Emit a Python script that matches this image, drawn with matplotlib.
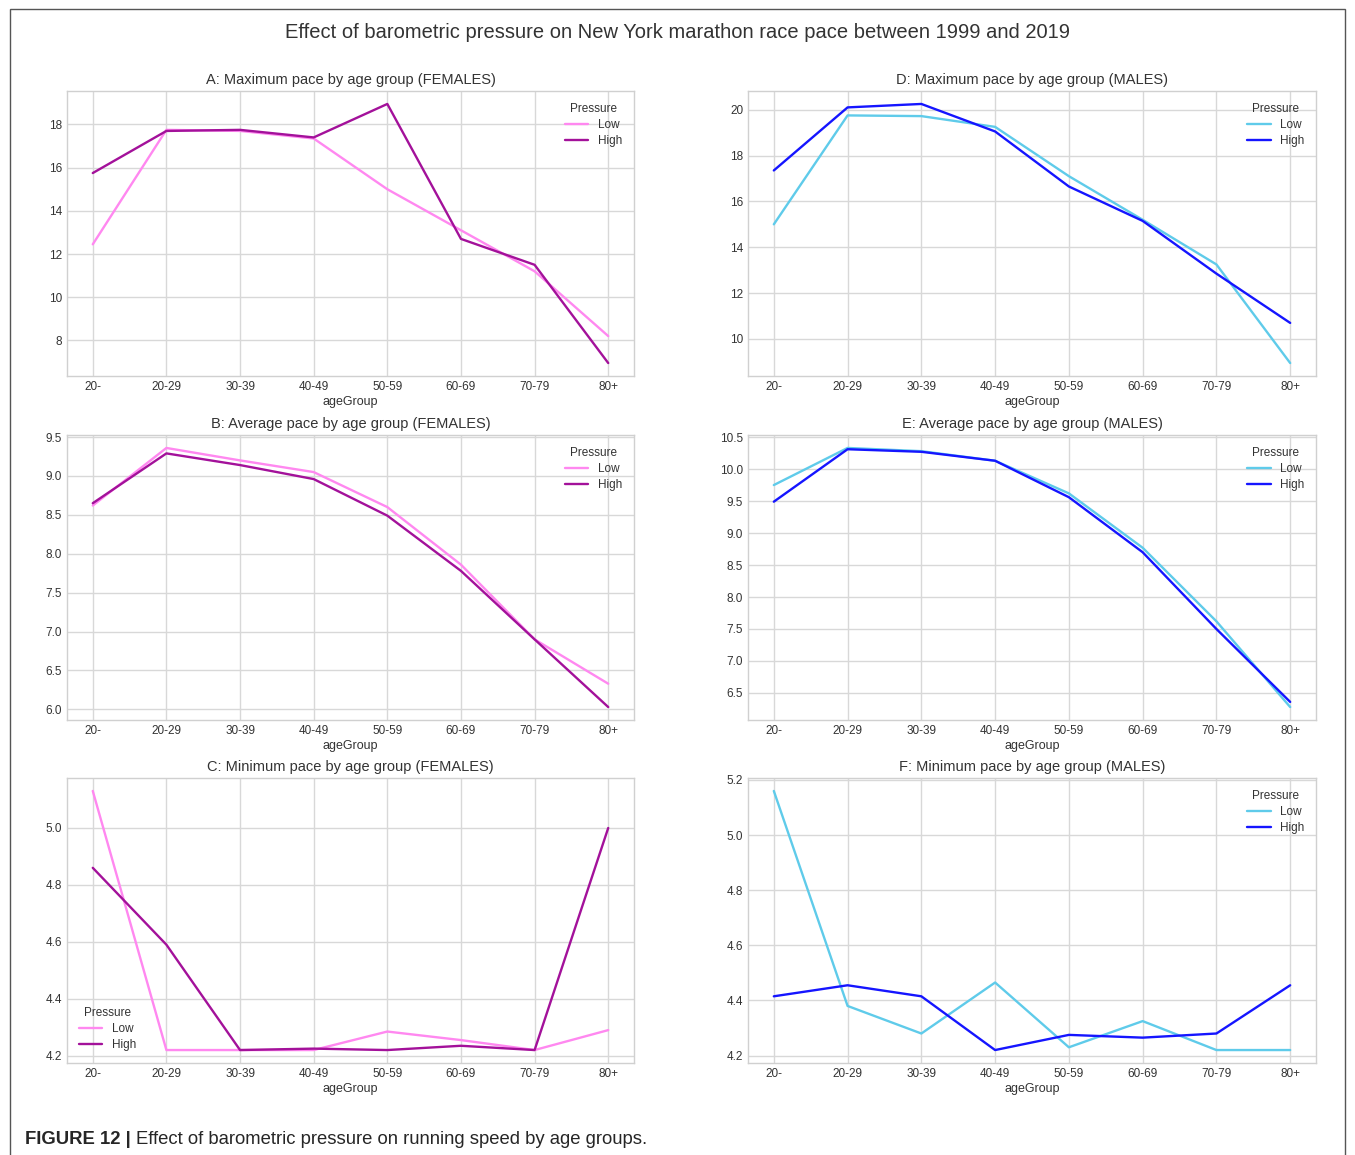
import matplotlib
matplotlib.use("Agg")
import matplotlib.pyplot as plt
from matplotlib.patches import Rectangle

age_groups = ["20-", "20-29", "30-39", "40-49", "50-59", "60-69", "70-79", "80+"]

# females
f_max_low = [12.45, 17.75, 17.7, 17.35, 15.0, 13.1, 11.2, 8.2]
f_max_high = [15.75, 17.7, 17.75, 17.4, 18.95, 12.7, 11.5, 6.95]
f_avg_low = [8.62, 9.36, 9.2, 9.05, 8.6, 7.86, 6.9, 6.33]
f_avg_high = [8.65, 9.29, 9.14, 8.96, 8.49, 7.78, 6.9, 6.03]
f_min_low = [5.13, 4.22, 4.22, 4.22, 4.285, 4.255, 4.22, 4.29]
f_min_high = [4.86, 4.59, 4.22, 4.225, 4.22, 4.235, 4.22, 5.0]

# males
m_max_low = [15.0, 19.75, 19.72, 19.25, 17.1, 15.2, 13.25, 8.95]
m_max_high = [17.35, 20.1, 20.25, 19.05, 16.65, 15.15, 12.85, 10.7]
m_avg_low = [9.75, 10.33, 10.28, 10.13, 9.62, 8.77, 7.62, 6.28]
m_avg_high = [9.49, 10.31, 10.27, 10.13, 9.56, 8.7, 7.5, 6.36]
m_min_low = [5.16, 4.38, 4.28, 4.465, 4.23, 4.325, 4.22, 4.22]
m_min_high = [4.415, 4.455, 4.415, 4.22, 4.275, 4.265, 4.28, 4.455]

f_colors = ["#ff88f0", "#a3119a"]
m_colors = ["#5fcbea", "#1515ff"]

plt.style.use("seaborn-v0_8-whitegrid")
plt.rcParams["font.family"] = ["Liberation Sans", "DejaVu Sans"]

fig = plt.figure(figsize=(13.55, 11.55), dpi=100)

W, H = 1355, 1155
def add_ax(l, t, r, b):
    return fig.add_axes([l / W, 1 - b / H, (r - l) / W, (b - t) / H])

panels = [
    ((67, 91, 634, 376), "A: Maximum pace by age group (FEMALES)", f_max_low, f_max_high, f_colors, "upper right"),
    ((67, 435, 634, 720), "B: Average pace by age group (FEMALES)", f_avg_low, f_avg_high, f_colors, "upper right"),
    ((67, 778, 634, 1063), "C: Minimum pace by age group (FEMALES)", f_min_low, f_min_high, f_colors, "lower left"),
    ((748, 91, 1316, 376), "D: Maximum pace by age group (MALES)", m_max_low, m_max_high, m_colors, "upper right"),
    ((748, 435, 1316, 720), "E: Average pace by age group (MALES)", m_avg_low, m_avg_high, m_colors, "upper right"),
    ((748, 778, 1316, 1063), "F: Minimum pace by age group (MALES)", m_min_low, m_min_high, m_colors, "upper right"),
]

x = list(range(len(age_groups)))
for box, title, low, high, cols, loc in panels:
    ax = add_ax(*box)
    ax.plot(x, low, color=cols[0], lw=1.7, label="Low")
    ax.plot(x, high, color=cols[1], lw=1.7, label="High")
    ax.set_xticks(x)
    ax.set_xticklabels(age_groups)
    ax.set_xlim(-0.35, 7.35)
    ax.tick_params(labelsize=8.5, colors="#333333")
    ax.set_xlabel("ageGroup", fontsize=9, color="#333333", labelpad=2)
    ax.set_title(title, fontsize=10.5, color="#333333", pad=5)
    for s in ax.spines.values():
        s.set_visible(True)
        s.set_color("#d0d0d0")
    ax.grid(color="#d8d8d8", lw=1)
    leg = ax.legend(title="Pressure", loc=loc, frameon=False, fontsize=8.5, title_fontsize=8.5,
                    labelspacing=0.35, borderaxespad=0.6)
    for t in leg.get_texts():
        t.set_color("#333333")
    leg.get_title().set_color("#333333")

fig.text(0.5, 1 - 33 / H, "Effect of barometric pressure on New York marathon race pace between 1999 and 2019",
         ha="center", va="center", fontsize=14.5, color="#333333")

# outer frame
fig.patches.append(Rectangle((10 / W, -0.01), 1335 / W, 1 - 9 / H + 0.01, transform=fig.transFigure,
                             fill=False, edgecolor="#555555", lw=1))

# caption
cap_y = 1 - 1140 / H
t1 = fig.text(25 / W, cap_y, "FIGURE 12 |", fontsize=13.3, fontweight="bold", va="center")
fig.canvas.draw()
bb = t1.get_window_extent()
fig.text(bb.x1 / W + 5 / W, cap_y, "Effect of barometric pressure on running speed by age groups.",
         fontsize=13.3, va="center")

fig.savefig("out.png", dpi=100)
